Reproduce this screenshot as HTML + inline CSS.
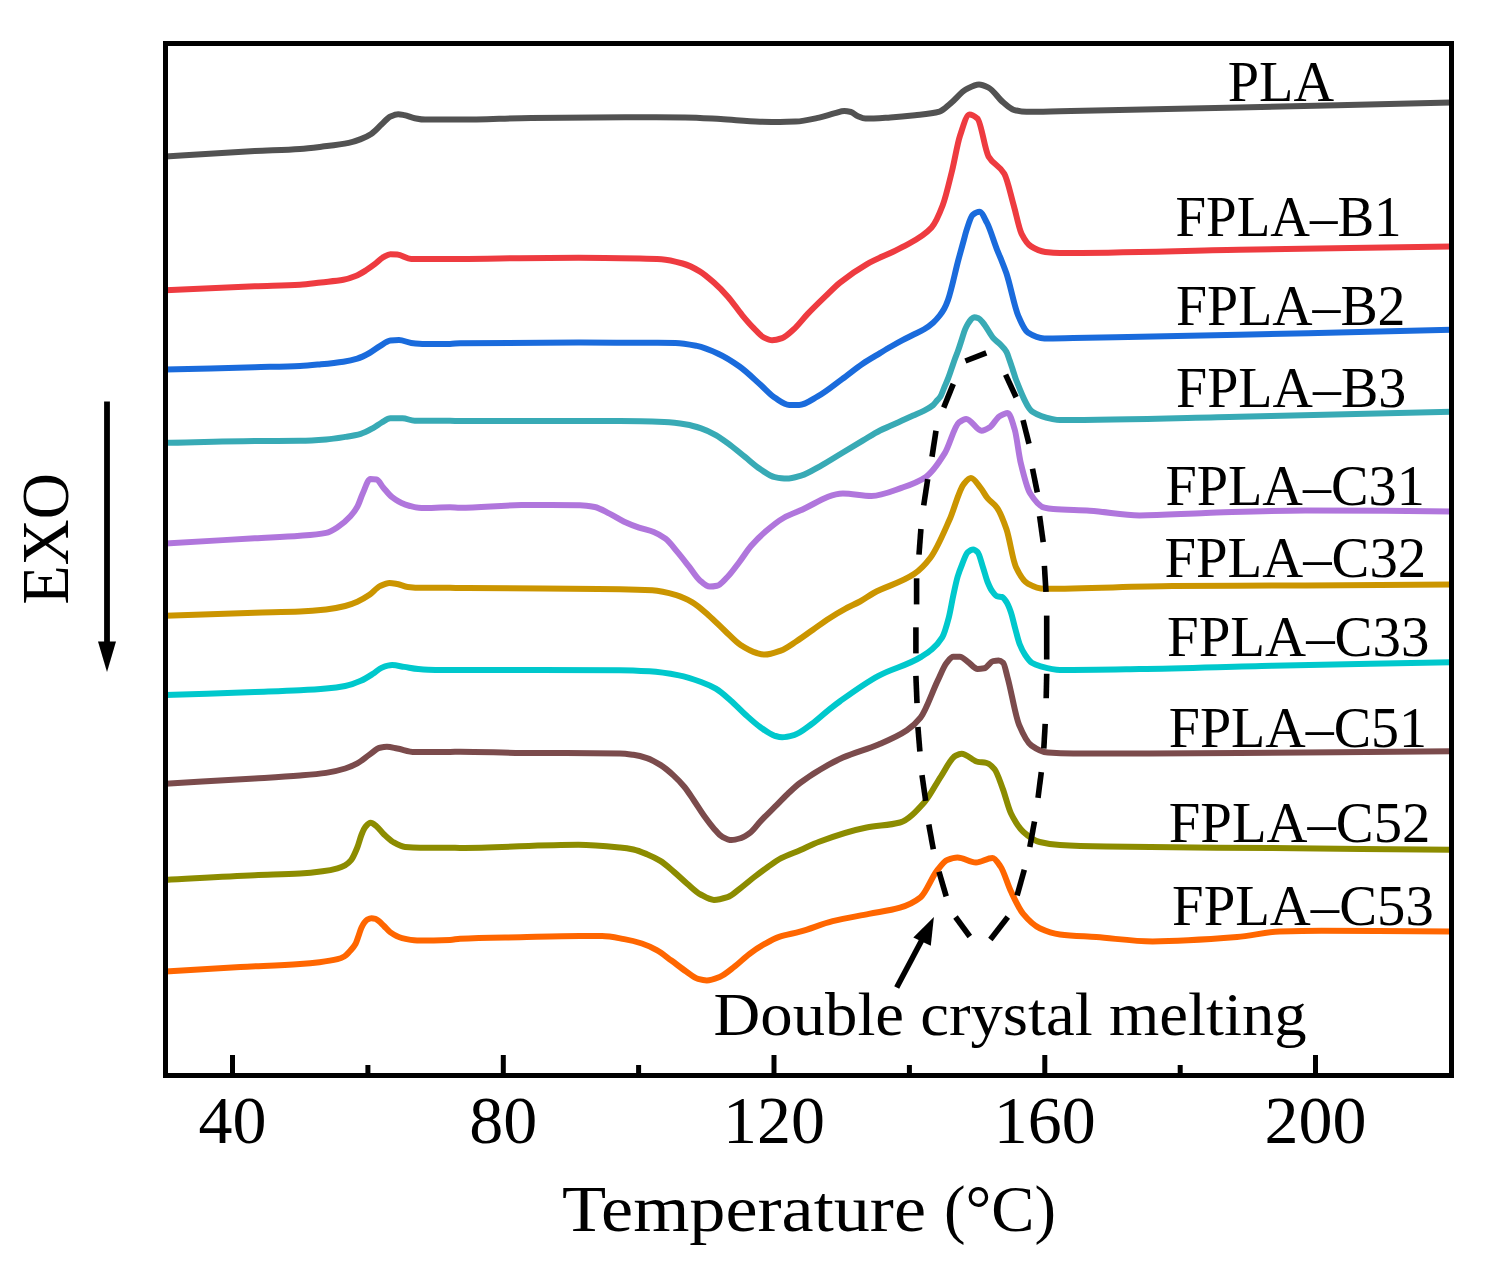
<!DOCTYPE html>
<html><head><meta charset="utf-8"><style>
html,body{margin:0;padding:0;background:#fff;}
body{width:1492px;height:1266px;overflow:hidden;}
svg{display:block;}
</style></head><body>
<svg width="1492" height="1266" viewBox="0 0 1492 1266">
<rect width="100%" height="100%" fill="#fff"/>
<g fill="none" stroke-width="6" stroke-linejoin="round" stroke-linecap="butt">
<path stroke="#525252" d="M165.50,156.50 C195.27,154.70 225.03,152.64 254.80,151.10 C269.87,150.32 284.93,150.02 300.00,149.00 C307.53,148.49 315.07,147.51 322.60,146.60 C331.30,145.55 340.00,144.68 348.70,142.90 C352.73,142.07 356.77,140.67 360.80,139.10 C364.27,137.75 367.73,136.14 371.20,133.90 C374.70,131.64 378.20,127.47 381.70,124.30 C384.60,121.68 387.50,117.78 390.40,116.50 C393.00,115.36 395.60,114.20 398.20,114.20 C400.23,114.20 402.27,114.71 404.30,115.10 C407.77,115.76 411.23,117.56 414.70,118.20 C418.17,118.84 421.63,119.60 425.10,119.60 C433.40,119.60 441.70,119.60 450.00,119.60 C453.33,119.60 456.67,119.60 460.00,119.60 C483.70,119.60 507.40,118.17 531.10,117.90 C562.70,117.53 594.30,117.20 625.90,117.20 C645.63,117.20 665.37,117.27 685.10,117.40 C696.97,117.48 708.83,118.43 720.70,119.10 C733.80,119.84 746.90,121.59 760.00,121.80 C766.67,121.91 773.33,122.00 780.00,122.00 C785.17,122.00 790.33,121.82 795.50,121.60 C803.40,121.26 811.30,119.29 819.20,117.60 C824.47,116.47 829.73,114.54 835.00,113.20 C838.10,112.41 841.20,111.00 844.30,111.00 C846.53,111.00 848.77,111.47 851.00,112.00 C853.33,112.56 855.67,115.33 858.00,116.30 C860.47,117.32 862.93,118.60 865.40,118.60 C873.70,118.60 882.00,117.92 890.30,117.40 C898.53,116.88 906.77,116.11 915.00,115.20 C923.17,114.29 931.33,113.79 939.50,111.60 C943.20,110.61 946.90,106.38 950.60,103.40 C955.87,99.15 961.13,91.93 966.40,89.20 C970.60,87.02 974.80,84.50 979.00,84.50 C982.17,84.50 985.33,86.09 988.50,87.60 C993.23,89.86 997.97,97.96 1002.70,101.90 C1006.37,104.95 1010.03,108.84 1013.70,109.80 C1017.93,110.91 1022.17,111.80 1026.40,111.80 C1037.60,111.80 1048.80,111.49 1060.00,111.30 C1119.67,110.29 1179.33,108.74 1239.00,107.40 C1309.67,105.82 1380.33,104.13 1451.00,102.50"/>
<path stroke="#ee3b40" d="M165.50,290.20 C195.27,288.87 225.03,287.32 254.80,286.20 C269.87,285.63 284.93,285.52 300.00,284.70 C306.97,284.32 313.93,283.19 320.90,282.40 C328.40,281.55 335.90,281.12 343.40,279.80 C347.47,279.08 351.53,277.63 355.60,276.00 C359.07,274.61 362.53,272.44 366.00,270.30 C368.90,268.51 371.80,266.37 374.70,264.20 C377.60,262.03 380.50,258.77 383.40,257.20 C385.73,255.94 388.07,254.30 390.40,254.30 C392.70,254.30 395.00,254.44 397.30,254.60 C401.93,254.93 406.57,259.00 411.20,259.00 C424.13,259.00 437.07,259.00 450.00,259.00 C453.33,259.00 456.67,258.93 460.00,258.90 C499.50,258.50 539.00,257.70 578.50,257.70 C599.00,257.70 619.50,258.09 640.00,258.50 C647.10,258.64 654.20,258.80 661.30,259.20 C668.40,259.60 675.50,261.48 682.60,263.50 C688.30,265.12 694.00,267.97 699.70,271.30 C704.43,274.07 709.17,278.39 713.90,282.60 C718.63,286.81 723.37,291.54 728.10,296.90 C732.83,302.26 737.57,309.62 742.30,315.30 C746.10,319.86 749.90,324.24 753.70,328.10 C757.03,331.48 760.37,335.80 763.70,337.40 C766.53,338.76 769.37,340.20 772.20,340.20 C775.50,340.20 778.80,339.18 782.10,338.10 C785.90,336.86 789.70,332.96 793.50,329.60 C798.23,325.41 802.97,318.86 807.70,313.90 C813.40,307.92 819.10,302.41 824.80,296.90 C829.87,292.00 834.93,286.68 840.00,282.60 C848.87,275.45 857.73,269.36 866.60,264.30 C878.47,257.53 890.33,253.88 902.20,247.20 C912.00,241.69 921.80,238.14 931.60,227.50 C935.30,223.48 939.00,214.98 942.70,205.30 C945.83,197.10 948.97,183.22 952.10,170.60 C954.73,160.00 957.37,143.70 960.00,135.80 C963.17,126.29 966.33,114.50 969.50,114.50 C972.13,114.50 974.77,116.27 977.40,118.50 C981.10,121.63 984.80,150.08 988.50,156.40 C993.77,165.40 999.03,164.61 1004.30,173.70 C1007.43,179.11 1010.57,194.38 1013.70,205.30 C1016.33,214.47 1018.97,228.62 1021.60,233.80 C1024.77,240.03 1027.93,244.43 1031.10,246.40 C1035.83,249.34 1040.57,251.30 1045.30,251.90 C1050.20,252.52 1055.10,253.00 1060.00,253.00 C1119.67,253.00 1179.33,250.79 1239.00,249.80 C1309.67,248.62 1380.33,247.60 1451.00,246.50"/>
<path stroke="#1a6bdc" d="M165.50,369.60 C195.27,368.80 225.03,367.99 254.80,367.20 C269.87,366.80 284.93,366.64 300.00,366.00 C306.97,365.70 313.93,364.96 320.90,364.30 C328.40,363.59 335.90,362.87 343.40,361.70 C348.03,360.98 352.67,360.00 357.30,358.60 C361.37,357.37 365.43,355.22 369.50,353.00 C372.97,351.11 376.43,348.15 379.90,346.10 C383.40,344.03 386.90,340.86 390.40,340.50 C393.27,340.21 396.13,340.00 399.00,340.00 C403.07,340.00 407.13,342.41 411.20,342.90 C415.83,343.46 420.47,344.00 425.10,344.00 C433.40,344.00 441.70,344.00 450.00,344.00 C453.33,344.00 456.67,343.24 460.00,343.20 C499.50,342.70 539.00,342.60 578.50,342.60 C599.00,342.60 619.50,342.74 640.00,342.80 C651.83,342.84 663.67,342.83 675.50,342.90 C682.63,342.94 689.77,344.45 696.90,345.90 C704.00,347.34 711.10,350.47 718.20,353.70 C725.30,356.93 732.40,361.46 739.50,366.50 C746.60,371.54 753.70,378.71 760.80,385.00 C765.53,389.19 770.27,394.77 775.00,397.80 C779.77,400.85 784.53,404.90 789.30,404.90 C792.60,404.90 795.90,404.90 799.20,404.90 C805.37,404.90 811.53,399.81 817.70,396.40 C825.83,391.91 833.97,385.02 842.10,379.10 C848.97,374.10 855.83,368.31 862.70,363.70 C868.47,359.83 874.23,356.58 880.00,353.10 C883.70,350.87 887.40,348.62 891.10,346.50 C894.77,344.40 898.43,342.34 902.10,340.40 C905.80,338.44 909.50,336.66 913.20,334.80 C916.87,332.96 920.53,331.51 924.20,329.30 C927.17,327.52 930.13,325.34 933.10,322.70 C935.30,320.74 937.50,318.30 939.70,315.50 C941.20,313.59 942.70,311.54 944.20,308.80 C945.47,306.49 946.73,303.53 948.00,300.00 C951.50,290.24 955.00,272.48 958.50,259.40 C960.27,252.80 962.03,246.55 963.80,240.10 C964.67,236.94 965.53,233.25 966.40,230.60 C968.50,224.19 970.60,216.43 972.70,214.80 C974.97,213.04 977.23,211.70 979.50,211.70 C981.97,211.70 984.43,218.06 986.90,222.70 C990.27,229.03 993.63,241.18 997.00,249.60 C998.37,253.02 999.73,255.99 1001.10,259.40 C1002.87,263.81 1004.63,268.06 1006.40,273.30 C1010.37,285.08 1014.33,306.70 1018.30,315.90 C1021.47,323.24 1024.63,330.51 1027.80,332.50 C1033.33,335.98 1038.87,338.40 1044.40,338.40 C1054.00,338.40 1063.60,338.15 1073.20,338.00 C1128.47,337.13 1183.73,335.89 1239.00,334.70 C1309.67,333.18 1380.33,331.37 1451.00,329.70"/>
<path stroke="#38aab5" d="M165.50,442.80 C195.27,442.23 225.03,441.38 254.80,441.10 C269.87,440.96 284.93,440.99 300.00,440.80 C308.70,440.69 317.40,440.15 326.10,439.50 C332.47,439.02 338.83,437.94 345.20,436.90 C350.40,436.05 355.60,435.27 360.80,433.80 C364.87,432.65 368.93,430.32 373.00,428.10 C375.90,426.52 378.80,424.12 381.70,422.50 C384.60,420.88 387.50,418.20 390.40,418.20 C394.43,418.20 398.47,418.20 402.50,418.20 C406.57,418.20 410.63,420.80 414.70,420.80 C426.47,420.80 438.23,420.80 450.00,420.80 C453.33,420.80 456.67,420.99 460.00,421.00 C513.33,421.09 566.67,421.02 620.00,421.10 C634.73,421.12 649.47,421.51 664.20,422.10 C671.60,422.40 679.00,423.33 686.40,424.50 C691.30,425.27 696.20,426.76 701.10,428.40 C706.00,430.04 710.90,432.40 715.80,435.10 C720.73,437.82 725.67,441.72 730.60,445.40 C735.50,449.05 740.40,453.28 745.30,457.20 C750.23,461.15 755.17,465.79 760.10,469.00 C765.00,472.19 769.90,476.11 774.80,477.10 C778.73,477.89 782.67,478.60 786.60,478.60 C791.43,478.60 796.27,476.98 801.10,475.60 C807.93,473.64 814.77,469.04 821.60,465.30 C828.43,461.56 835.27,457.09 842.10,453.00 C848.97,448.89 855.83,444.77 862.70,440.70 C868.47,437.28 874.23,433.38 880.00,430.50 C883.70,428.65 887.40,427.26 891.10,425.60 C894.77,423.96 898.43,422.26 902.10,420.60 C905.80,418.93 909.50,417.27 913.20,415.60 C916.87,413.94 920.53,412.53 924.20,410.60 C927.17,409.04 930.13,407.61 933.10,405.10 C934.40,404.00 935.70,402.00 937.00,400.50 C938.07,399.27 939.13,398.49 940.20,396.90 C941.57,394.86 942.93,390.61 944.30,387.40 C945.63,384.27 946.97,381.36 948.30,377.90 C949.40,375.04 950.50,371.65 951.60,368.50 C952.70,365.35 953.80,362.02 954.90,359.00 C955.97,356.07 957.03,353.60 958.10,350.60 C959.27,347.32 960.43,343.53 961.60,340.00 C962.73,336.57 963.87,332.44 965.00,329.70 C965.93,327.44 966.87,325.56 967.80,324.00 C968.87,322.22 969.93,320.53 971.00,319.50 C972.03,318.50 973.07,317.20 974.10,317.20 C975.57,317.20 977.03,317.72 978.50,318.30 C980.00,318.90 981.50,320.98 983.00,322.70 C986.57,326.78 990.13,334.58 993.70,338.50 C995.80,340.81 997.90,342.04 1000.00,344.20 C1002.13,346.39 1004.27,348.14 1006.40,351.80 C1007.43,353.57 1008.47,357.11 1009.50,360.00 C1010.57,362.98 1011.63,366.28 1012.70,369.50 C1013.73,372.62 1014.77,376.40 1015.80,379.00 C1021.37,393.03 1026.93,408.25 1032.50,411.80 C1038.83,415.84 1045.17,417.74 1051.50,418.90 C1054.30,419.41 1057.10,420.00 1059.90,420.00 C1119.60,420.00 1179.30,417.93 1239.00,416.70 C1309.67,415.24 1380.33,413.37 1451.00,411.70"/>
<path stroke="#b076dc" d="M165.50,543.50 C195.27,541.77 225.03,539.98 254.80,538.30 C269.87,537.45 284.93,536.95 300.00,535.80 C308.70,535.14 317.40,534.62 326.10,532.90 C330.13,532.10 334.17,529.36 338.20,526.80 C342.27,524.22 346.33,520.70 350.40,516.30 C352.70,513.81 355.00,510.91 357.30,506.80 C359.07,503.65 360.83,497.61 362.60,493.80 C365.20,488.19 367.80,479.00 370.40,479.00 C372.43,479.00 374.47,479.19 376.50,479.50 C378.80,479.85 381.10,485.08 383.40,487.70 C386.30,491.01 389.20,494.98 392.10,497.20 C396.17,500.31 400.23,502.87 404.30,504.20 C410.07,506.08 415.83,508.00 421.60,508.00 C431.07,508.00 440.53,507.30 450.00,507.30 C453.33,507.30 456.67,507.80 460.00,507.80 C480.53,507.80 501.07,505.10 521.60,505.10 C541.07,505.10 560.53,505.12 580.00,505.20 C584.90,505.22 589.80,506.06 594.70,507.00 C599.63,507.95 604.57,511.17 609.50,513.60 C614.40,516.02 619.30,519.43 624.20,521.70 C629.13,523.98 634.07,525.91 639.00,527.60 C643.90,529.28 648.80,530.06 653.70,532.00 C657.63,533.56 661.57,535.74 665.50,538.70 C669.43,541.66 673.37,547.25 677.30,551.90 C681.23,556.55 685.17,561.71 689.10,566.70 C692.53,571.05 695.97,576.95 699.40,579.90 C702.87,582.87 706.33,586.60 709.80,586.60 C712.23,586.60 714.67,586.25 717.10,585.80 C720.53,585.16 723.97,580.47 727.40,577.00 C731.33,573.02 735.27,567.36 739.20,562.20 C743.13,557.04 747.07,550.56 751.00,546.00 C755.93,540.28 760.87,535.54 765.80,531.30 C771.70,526.23 777.60,521.30 783.50,518.00 C789.00,514.92 794.50,512.94 800.00,510.60 C814.30,504.51 828.60,493.50 842.90,493.50 C852.40,493.50 861.90,495.90 871.40,495.90 C881.67,495.90 891.93,491.10 902.20,487.60 C910.10,484.90 918.00,482.24 925.90,476.90 C932.20,472.64 938.50,463.34 944.80,453.20 C949.53,445.58 954.27,425.92 959.00,422.40 C961.40,420.62 963.80,418.90 966.20,418.90 C971.33,418.90 976.47,430.70 981.60,430.70 C984.37,430.70 987.13,428.89 989.90,427.20 C993.03,425.29 996.17,418.45 999.30,416.50 C1002.07,414.78 1004.83,412.90 1007.60,412.90 C1009.97,412.90 1012.33,421.63 1014.70,429.50 C1016.70,436.15 1018.70,454.36 1020.70,462.70 C1023.87,475.91 1027.03,488.48 1030.20,493.50 C1034.93,501.00 1039.67,506.48 1044.40,507.70 C1047.37,508.46 1050.33,508.87 1053.30,509.10 C1065.47,510.04 1077.63,509.98 1089.80,510.70 C1106.37,511.67 1122.93,515.40 1139.50,515.40 C1161.63,515.40 1183.77,513.68 1205.90,513.00 C1239.07,511.98 1272.23,510.40 1305.40,510.40 C1353.93,510.40 1402.47,511.07 1451.00,511.40"/>
<path stroke="#cb9500" d="M165.50,615.80 C195.27,614.77 225.03,613.54 254.80,612.70 C269.87,612.28 284.93,612.19 300.00,611.60 C308.70,611.26 317.40,610.49 326.10,609.50 C332.47,608.77 338.83,607.58 345.20,606.00 C349.23,605.00 353.27,603.46 357.30,601.70 C361.37,599.93 365.43,597.56 369.50,594.80 C372.97,592.45 376.43,587.74 379.90,586.10 C383.10,584.58 386.30,582.90 389.50,582.90 C392.10,582.90 394.70,583.52 397.30,584.00 C400.77,584.64 404.23,586.52 407.70,586.90 C412.33,587.40 416.97,587.80 421.60,587.80 C431.07,587.80 440.53,587.80 450.00,587.80 C453.33,587.80 456.67,587.96 460.00,588.00 C513.33,588.67 566.67,588.44 620.00,589.20 C630.73,589.35 641.47,589.65 652.20,590.30 C660.23,590.78 668.27,592.83 676.30,595.10 C681.67,596.62 687.03,599.22 692.40,602.30 C697.77,605.38 703.13,610.53 708.50,615.20 C713.87,619.87 719.23,625.52 724.60,630.50 C729.93,635.45 735.27,641.58 740.60,645.00 C745.97,648.45 751.33,651.55 756.70,653.00 C759.40,653.73 762.10,654.60 764.80,654.60 C770.13,654.60 775.47,652.48 780.80,650.60 C786.17,648.71 791.53,644.46 796.90,641.00 C802.27,637.54 807.63,633.47 813.00,629.70 C818.37,625.93 823.73,621.86 829.10,618.40 C834.47,614.94 839.83,611.69 845.20,608.80 C850.13,606.14 855.07,604.22 860.00,601.50 C864.57,598.99 869.13,595.50 873.70,593.00 C887.13,585.66 900.57,583.13 914.00,574.10 C919.53,570.38 925.07,564.82 930.60,557.50 C936.93,549.13 943.27,533.75 949.60,519.60 C954.33,509.03 959.07,489.60 963.80,484.00 C966.17,481.20 968.53,478.10 970.90,478.10 C974.07,478.10 977.23,483.77 980.40,487.60 C982.77,490.46 985.13,495.34 987.50,498.20 C990.67,502.03 993.83,503.30 997.00,507.70 C1000.13,512.06 1003.27,520.02 1006.40,529.10 C1009.57,538.28 1012.73,560.33 1015.90,567.00 C1019.87,575.35 1023.83,581.50 1027.80,583.60 C1033.33,586.53 1038.87,588.80 1044.40,588.80 C1087.17,588.80 1129.93,586.32 1172.70,586.00 C1216.93,585.67 1261.17,585.64 1305.40,585.40 C1353.93,585.14 1402.47,584.73 1451.00,584.40"/>
<path stroke="#00c8cc" d="M165.50,695.10 C195.27,694.07 225.03,693.08 254.80,692.00 C269.87,691.45 284.93,691.04 300.00,690.30 C308.70,689.87 317.40,689.38 326.10,688.60 C332.47,688.03 338.83,687.25 345.20,686.00 C350.40,684.98 355.60,683.02 360.80,680.80 C364.87,679.07 368.93,676.38 373.00,673.80 C375.90,671.96 378.80,668.78 381.70,667.70 C385.17,666.40 388.63,665.10 392.10,665.10 C396.17,665.10 400.23,666.28 404.30,666.90 C408.93,667.61 413.57,668.73 418.20,669.10 C423.97,669.56 429.73,670.00 435.50,670.00 C440.33,670.00 445.17,670.00 450.00,670.00 C453.33,670.00 456.67,670.00 460.00,670.00 C513.33,670.00 566.67,670.04 620.00,670.20 C629.83,670.23 639.67,670.72 649.50,671.30 C659.33,671.88 669.17,673.50 679.00,675.40 C686.37,676.82 693.73,679.30 701.10,682.00 C706.00,683.79 710.90,685.86 715.80,688.70 C720.73,691.56 725.67,696.22 730.60,700.50 C735.50,704.75 740.40,710.11 745.30,714.50 C750.23,718.92 755.17,723.54 760.10,727.00 C765.00,730.43 769.90,734.39 774.80,735.80 C777.27,736.51 779.73,737.30 782.20,737.30 C786.13,737.30 790.07,736.19 794.00,735.10 C799.90,733.46 805.80,728.22 811.70,724.00 C817.60,719.78 823.50,713.98 829.40,709.30 C832.93,706.50 836.47,703.74 840.00,701.20 C852.83,691.98 865.67,682.63 878.50,675.80 C892.70,668.24 906.90,665.78 921.10,656.90 C928.13,652.50 935.17,648.30 942.20,637.30 C944.40,633.86 946.60,625.75 948.80,617.40 C950.30,611.71 951.80,602.15 953.30,595.30 C954.77,588.60 956.23,581.43 957.70,576.50 C959.17,571.57 960.63,567.88 962.10,564.30 C963.97,559.74 965.83,553.74 967.70,552.20 C969.53,550.69 971.37,549.40 973.20,549.40 C974.67,549.40 976.13,550.71 977.60,552.20 C979.43,554.06 981.27,562.21 983.10,567.70 C984.60,572.19 986.10,578.30 987.60,582.00 C989.07,585.62 990.53,588.91 992.00,590.90 C993.83,593.38 995.67,595.97 997.50,596.40 C998.97,596.74 1000.43,596.65 1001.90,597.00 C1003.40,597.36 1004.90,599.69 1006.40,601.90 C1007.87,604.06 1009.33,607.74 1010.80,611.90 C1012.27,616.06 1013.73,623.16 1015.20,628.50 C1016.67,633.84 1018.13,640.26 1019.60,644.00 C1021.47,648.76 1023.33,652.23 1025.20,655.00 C1027.40,658.27 1029.60,661.46 1031.80,662.80 C1034.53,664.47 1037.27,665.36 1040.00,666.10 C1046.67,667.91 1053.33,669.90 1060.00,669.90 C1086.50,669.90 1113.00,669.40 1139.50,669.00 C1183.77,668.33 1228.03,666.66 1272.30,665.70 C1331.87,664.41 1391.43,663.43 1451.00,662.30"/>
<path stroke="#7b4b4c" d="M165.50,783.70 C195.27,781.97 225.03,780.36 254.80,778.50 C269.87,777.56 284.93,776.72 300.00,775.50 C308.70,774.79 317.40,774.14 326.10,772.90 C332.47,772.00 338.83,770.45 345.20,768.50 C349.23,767.26 353.27,765.46 357.30,763.30 C361.37,761.12 365.43,757.39 369.50,754.60 C372.97,752.22 376.43,748.42 379.90,747.70 C382.23,747.22 384.57,746.80 386.90,746.80 C390.37,746.80 393.83,747.88 397.30,748.50 C403.10,749.54 408.90,752.00 414.70,752.00 C426.47,752.00 438.23,752.00 450.00,752.00 C453.33,752.00 456.67,751.70 460.00,751.70 C480.53,751.70 501.07,752.73 521.60,752.90 C554.40,753.18 587.20,752.99 620.00,753.40 C624.47,753.46 628.93,754.15 633.40,754.80 C637.90,755.46 642.40,756.61 646.90,758.10 C651.37,759.57 655.83,762.13 660.30,764.90 C664.77,767.67 669.23,771.52 673.70,775.60 C677.30,778.89 680.90,782.60 684.50,787.00 C687.63,790.83 690.77,795.90 693.90,800.50 C697.47,805.74 701.03,811.66 704.60,816.60 C707.73,820.94 710.87,825.21 714.00,828.70 C716.70,831.71 719.40,835.25 722.10,836.70 C725.23,838.38 728.37,840.10 731.50,840.10 C734.63,840.10 737.77,839.07 740.90,838.10 C744.03,837.13 747.17,835.06 750.30,832.70 C753.90,829.99 757.50,824.41 761.10,820.60 C765.57,815.87 770.03,811.68 774.50,807.20 C778.97,802.72 783.43,797.90 787.90,793.70 C791.93,789.91 795.97,785.97 800.00,783.00 C814.30,772.47 828.60,764.04 842.90,757.60 C854.77,752.25 866.63,749.56 878.50,744.50 C887.97,740.46 897.43,736.67 906.90,730.30 C911.43,727.25 915.97,723.49 920.50,717.70 C926.23,710.38 931.97,692.45 937.70,680.60 C940.67,674.47 943.63,666.45 946.60,662.80 C948.83,660.05 951.07,656.70 953.30,656.70 C955.50,656.70 957.70,656.70 959.90,656.70 C962.50,656.70 965.10,659.93 967.70,661.70 C971.00,663.94 974.30,668.90 977.60,668.90 C979.80,668.90 982.00,668.65 984.20,668.30 C987.17,667.83 990.13,661.56 993.10,661.10 C994.93,660.82 996.77,660.60 998.60,660.60 C1000.10,660.60 1001.60,661.52 1003.10,662.80 C1004.57,664.05 1006.03,671.94 1007.50,677.20 C1011.37,691.06 1015.23,715.66 1019.10,724.90 C1023.20,734.70 1027.30,742.61 1031.40,745.50 C1036.90,749.38 1042.40,752.18 1047.90,752.60 C1056.33,753.25 1064.77,753.60 1073.20,753.60 C1128.47,753.60 1183.73,753.20 1239.00,752.90 C1309.67,752.52 1380.33,751.83 1451.00,751.30"/>
<path stroke="#8c8c00" d="M165.50,879.90 C195.27,878.33 225.03,876.43 254.80,875.20 C269.87,874.58 284.93,874.44 300.00,873.60 C307.50,873.18 315.00,872.34 322.50,871.30 C327.50,870.61 332.50,869.68 337.50,868.30 C340.00,867.61 342.50,866.68 345.00,865.30 C347.03,864.18 349.07,862.54 351.10,860.10 C353.10,857.70 355.10,852.87 357.10,848.00 C358.60,844.35 360.10,838.11 361.60,834.50 C362.83,831.53 364.07,828.44 365.30,827.00 C367.07,824.93 368.83,822.80 370.60,822.80 C372.60,822.80 374.60,824.80 376.60,826.30 C379.10,828.18 381.60,832.13 384.10,834.50 C387.10,837.35 390.10,840.31 393.10,842.00 C397.10,844.26 401.10,846.65 405.10,847.00 C410.10,847.43 415.10,847.70 420.10,847.70 C430.07,847.70 440.03,847.70 450.00,847.70 C453.33,847.70 456.67,847.90 460.00,847.90 C499.50,847.90 539.00,844.80 578.50,844.80 C592.33,844.80 606.17,846.16 620.00,847.50 C624.47,847.93 628.93,848.57 633.40,849.50 C637.90,850.44 642.40,852.35 646.90,854.20 C651.37,856.03 655.83,858.15 660.30,860.90 C664.77,863.65 669.23,867.83 673.70,871.60 C678.20,875.40 682.70,879.88 687.20,883.70 C691.67,887.49 696.13,892.10 700.60,894.50 C705.07,896.90 709.53,899.90 714.00,899.90 C718.50,899.90 723.00,898.60 727.50,897.20 C731.97,895.81 736.43,891.15 740.90,887.80 C745.37,884.45 749.83,880.45 754.30,877.00 C758.80,873.53 763.30,870.13 767.80,867.00 C772.27,863.89 776.73,860.53 781.20,858.20 C787.47,854.92 793.73,852.92 800.00,850.20 C806.40,847.42 812.80,844.05 819.20,841.70 C835.00,835.90 850.80,830.59 866.60,827.50 C877.73,825.32 888.87,825.43 900.00,822.50 C908.20,820.34 916.40,811.11 924.60,802.00 C930.07,795.93 935.53,784.44 941.00,776.30 C945.83,769.10 950.67,758.07 955.50,755.70 C957.53,754.70 959.57,753.70 961.60,753.70 C967.07,753.70 972.53,760.91 978.00,761.90 C980.77,762.40 983.53,762.32 986.30,762.90 C989.03,763.47 991.77,765.96 994.50,769.10 C997.23,772.24 999.97,781.35 1002.70,788.60 C1005.43,795.85 1008.17,807.60 1010.90,813.20 C1015.00,821.60 1019.10,828.01 1023.20,831.70 C1028.70,836.65 1034.20,840.66 1039.70,842.00 C1046.47,843.65 1053.23,844.61 1060.00,845.00 C1075.47,845.90 1090.93,846.24 1106.40,846.50 C1161.70,847.41 1217.00,847.57 1272.30,848.10 C1331.87,848.67 1391.43,849.23 1451.00,849.80"/>
<path stroke="#ff6600" d="M165.50,971.40 C190.47,969.93 215.43,968.35 240.40,967.00 C260.27,965.93 280.13,965.36 300.00,964.00 C306.50,963.55 313.00,962.98 319.50,962.20 C325.50,961.48 331.50,960.71 337.50,959.20 C339.73,958.64 341.97,957.78 344.20,956.50 C346.13,955.40 348.07,953.12 350.00,951.00 C351.87,948.95 353.73,947.09 355.60,943.70 C356.57,941.95 357.53,938.66 358.50,936.00 C359.43,933.43 360.37,930.06 361.30,928.00 C362.27,925.87 363.23,924.09 364.20,922.80 C365.20,921.46 366.20,920.12 367.20,919.60 C368.63,918.86 370.07,918.20 371.50,918.20 C372.83,918.20 374.17,918.46 375.50,918.80 C376.53,919.06 377.57,920.10 378.60,920.90 C380.40,922.30 382.20,924.25 384.00,926.00 C386.03,927.97 388.07,930.69 390.10,932.10 C394.10,934.87 398.10,937.14 402.10,938.10 C407.10,939.30 412.10,940.40 417.10,940.40 C428.07,940.40 439.03,940.24 450.00,939.90 C453.33,939.80 456.67,938.97 460.00,938.80 C480.10,937.79 500.20,937.64 520.30,937.20 C540.20,936.77 560.10,936.10 580.00,936.10 C587.37,936.10 594.73,936.10 602.10,936.10 C609.47,936.10 616.83,937.79 624.20,939.10 C630.10,940.15 636.00,941.60 641.90,943.50 C646.83,945.09 651.77,947.40 656.70,950.10 C661.60,952.78 666.50,956.95 671.40,960.50 C676.33,964.08 681.27,968.15 686.20,971.50 C690.13,974.17 694.07,977.87 698.00,978.90 C700.93,979.67 703.87,980.40 706.80,980.40 C711.23,980.40 715.67,978.45 720.10,976.70 C725.00,974.76 729.90,970.17 734.80,966.40 C739.73,962.61 744.67,957.45 749.60,953.80 C754.50,950.18 759.40,946.95 764.30,944.20 C769.23,941.43 774.17,938.56 779.10,936.90 C786.07,934.55 793.03,933.64 800.00,931.70 C810.90,928.67 821.80,923.91 832.70,921.20 C844.77,918.20 856.83,916.32 868.90,913.90 C879.27,911.82 889.63,910.75 900.00,907.70 C906.83,905.69 913.67,902.74 920.50,897.40 C926.00,893.10 931.50,877.59 937.00,870.70 C940.40,866.44 943.80,861.38 947.20,860.00 C950.63,858.60 954.07,857.40 957.50,857.40 C963.67,857.40 969.83,862.50 976.00,862.50 C981.47,862.50 986.93,858.00 992.40,858.00 C995.13,858.00 997.87,862.67 1000.60,866.60 C1004.03,871.54 1007.47,884.13 1010.90,891.30 C1015.00,899.86 1019.10,908.99 1023.20,913.90 C1028.70,920.49 1034.20,925.67 1039.70,928.20 C1046.47,931.31 1053.23,933.54 1060.00,934.40 C1072.10,935.94 1084.20,936.19 1096.30,937.10 C1115.07,938.51 1133.83,941.40 1152.60,941.40 C1180.77,941.40 1208.93,939.28 1237.10,937.10 C1251.17,936.01 1265.23,931.97 1279.30,931.50 C1293.37,931.03 1307.43,930.70 1321.50,930.70 C1364.67,930.70 1407.83,931.23 1451.00,931.50"/>
</g>
<g stroke="#000" stroke-width="5.6" stroke-linecap="butt">
<line x1="953.3" y1="383.9" x2="943.7" y2="407.6"/>
<line x1="965.4" y1="361.0" x2="986.3" y2="352.9"/>
<line x1="1005.6" y1="374.6" x2="1016.1" y2="397.2"/>
<line x1="936.0" y1="430.7" x2="932.0" y2="456.7"/>
<line x1="927.7" y1="479.2" x2="923.7" y2="505.3"/>
<line x1="920.9" y1="529.0" x2="919.0" y2="554.6"/>
<line x1="916.6" y1="578.3" x2="916.6" y2="604.4"/>
<line x1="915.9" y1="627.3" x2="915.9" y2="653.4"/>
<line x1="915.9" y1="675.9" x2="917.0" y2="703.2"/>
<line x1="917.9" y1="727.0" x2="919.9" y2="751.6"/>
<line x1="922.0" y1="775.2" x2="925.7" y2="800.9"/>
<line x1="928.8" y1="824.5" x2="933.3" y2="849.2"/>
<line x1="939.0" y1="871.8" x2="946.2" y2="896.4"/>
<line x1="955.5" y1="917.0" x2="969.8" y2="936.5"/>
<line x1="1023.0" y1="420.1" x2="1029.0" y2="443.8"/>
<line x1="1032.5" y1="468.7" x2="1037.3" y2="492.4"/>
<line x1="1039.6" y1="516.1" x2="1043.2" y2="542.2"/>
<line x1="1044.4" y1="565.9" x2="1046.0" y2="591.9"/>
<line x1="1046.7" y1="615.6" x2="1046.7" y2="659.5"/>
<line x1="1046.7" y1="673.7" x2="1046.2" y2="698.2"/>
<line x1="1045.2" y1="723.9" x2="1043.8" y2="748.5"/>
<line x1="1041.3" y1="772.2" x2="1038.0" y2="797.8"/>
<line x1="1034.5" y1="821.4" x2="1029.8" y2="847.1"/>
<line x1="1024.3" y1="869.7" x2="1017.1" y2="895.4"/>
<line x1="1007.8" y1="917.0" x2="990.4" y2="939.5"/>
</g>
<line x1="896.7" y1="987.5" x2="924" y2="936" stroke="#000" stroke-width="5.6"/>
<polygon points="933.9,917 913.3,937.5 930.8,945.7" fill="#000"/>
<rect x="165.5" y="43.5" width="1286" height="1032" fill="none" stroke="#000" stroke-width="5"/>
<g stroke="#000" stroke-width="5"><line x1="232.5" y1="1073" x2="232.5" y2="1055.0"/><line x1="367.9" y1="1073" x2="367.9" y2="1065.0"/><line x1="503.3" y1="1073" x2="503.3" y2="1055.0"/><line x1="638.6" y1="1073" x2="638.6" y2="1065.0"/><line x1="774.0" y1="1073" x2="774.0" y2="1055.0"/><line x1="909.4" y1="1073" x2="909.4" y2="1065.0"/><line x1="1044.8" y1="1073" x2="1044.8" y2="1055.0"/><line x1="1180.2" y1="1073" x2="1180.2" y2="1065.0"/><line x1="1315.5" y1="1073" x2="1315.5" y2="1055.0"/></g>
<g font-family='"Liberation Serif", serif' font-size="68" fill="#000" text-anchor="middle">
<text x="232.5" y="1143">40</text>
<text x="503.3" y="1143">80</text>
<text x="774.0" y="1143">120</text>
<text x="1044.8" y="1143">160</text>
<text x="1315.5" y="1143">200</text>
</g>
<text x="562" y="1230.6" font-family='"Liberation Serif", serif' font-size="66" textLength="364" lengthAdjust="spacingAndGlyphs">Temperature</text>
<text x="944" y="1230.6" font-family='"Liberation Serif", serif' font-size="66" textLength="112" lengthAdjust="spacingAndGlyphs">(°C)</text>
<text transform="translate(68,604.5) rotate(-90)" font-family='"Liberation Serif", serif' font-size="67" textLength="131.5" lengthAdjust="spacingAndGlyphs">EXO</text>
<line x1="107" y1="401.5" x2="107" y2="645" stroke="#000" stroke-width="5.8"/>
<polygon points="98,641.6 116,641.6 107,672" fill="#000"/>
<g font-family='"Liberation Serif", serif' font-size="56" fill="#000">
<text x="1227.8" y="101.2" textLength="106.2" lengthAdjust="spacingAndGlyphs">PLA</text>
<text x="1175.5" y="236.4" textLength="226.1" lengthAdjust="spacingAndGlyphs">FPLA–B1</text>
<text x="1176.1" y="325.4" textLength="229.4" lengthAdjust="spacingAndGlyphs">FPLA–B2</text>
<text x="1176.1" y="407.4" textLength="230.1" lengthAdjust="spacingAndGlyphs">FPLA–B3</text>
<text x="1165.5" y="504.7" textLength="259.3" lengthAdjust="spacingAndGlyphs">FPLA–C31</text>
<text x="1164.5" y="576.7" textLength="261.6" lengthAdjust="spacingAndGlyphs">FPLA–C32</text>
<text x="1167.1" y="656.4" textLength="262.3" lengthAdjust="spacingAndGlyphs">FPLA–C33</text>
<text x="1168.8" y="747.0" textLength="258.3" lengthAdjust="spacingAndGlyphs">FPLA–C51</text>
<text x="1168.8" y="841.5" textLength="261.6" lengthAdjust="spacingAndGlyphs">FPLA–C52</text>
<text x="1172.1" y="924.5" textLength="261.7" lengthAdjust="spacingAndGlyphs">FPLA–C53</text>
</g>
<text x="713.6" y="1035" font-family='"Liberation Serif", serif' font-size="61" textLength="593" lengthAdjust="spacingAndGlyphs">Double crystal melting</text>
</svg>
</body></html>
